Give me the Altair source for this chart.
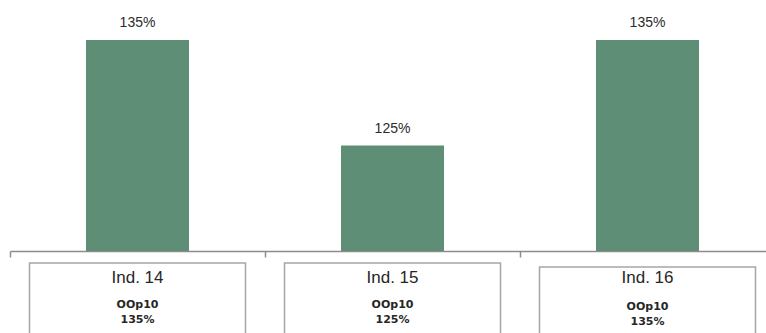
import altair as alt
import pandas as pd

# Indicator categories, their achieved percentage and the series name shown in each label box
categories = ["Ind. 14", "Ind. 15", "Ind. 16"]
values = [135, 125, 135]
series_name = "OOp10"

df = pd.DataFrame({"ind": categories, "value": values})

Y_MIN, Y_MAX = 115, 138.8  # value axis window; bars rise from Y_MIN

BAR_COLOR = "#5e8e76"
TEXT_COLOR = "#262626"
BOX_STROKE = "#a6a6a6"

x_enc = alt.X(
    "ind:N",
    sort=categories,
    scale=alt.Scale(range=[0, 765], paddingInner=0, paddingOuter=0),
    axis=alt.Axis(
        title=None,
        labels=False,
        domainColor="#8c8c8c",
        domainWidth=1.5,
        tickColor="#8c8c8c",
        tickWidth=1.5,
        tickSize=6,
        tickBand="extent",
    ),
)
y_enc = alt.Y(
    "value:Q",
    scale=alt.Scale(domain=[Y_MIN, Y_MAX], zero=False, nice=False),
    axis=None,
)

base = alt.Chart(df).transform_calculate(
    pct="datum.value + '%'",
    series=f"'{series_name}'",
)

bars = base.mark_bar(color=BAR_COLOR, width=alt.RelativeBandSize(0.404)).encode(
    x=x_enc, y=y_enc, y2=alt.Y2(datum=Y_MIN)
)

value_labels = base.mark_text(
    dy=-17, baseline="middle", fontSize=14, font="Liberation Sans", color="#2b2b2b"
).encode(x=x_enc, y=y_enc, text="pct:N")


def label_box(subset, shift):
    """White box with the category name, series name and value under the axis."""
    src = base.transform_filter(alt.FieldOneOfPredicate(field="ind", oneOf=subset))
    box = src.mark_bar(
        fill="white",
        stroke=BOX_STROKE,
        strokeWidth=1.5,
        width=alt.RelativeBandSize(0.847),
    ).encode(x=x_enc, y=alt.value(263 + shift), y2=alt.value(345))
    name = src.mark_text(
        baseline="middle", fontSize=17, font="Liberation Sans", color=TEXT_COLOR
    ).encode(x=x_enc, y=alt.value(278), text="ind:N")
    series = src.mark_text(
        baseline="middle", fontSize=11, fontWeight="bold", font="DejaVu Sans", color=TEXT_COLOR
    ).encode(x=x_enc, y=alt.value(305 + shift / 2), text="series:N")
    value = src.mark_text(
        baseline="middle", fontSize=11, fontWeight="bold", font="DejaVu Sans", color=TEXT_COLOR
    ).encode(x=x_enc, y=alt.value(320 + shift / 2), text="pct:N")
    return [box, name, series, value]


boxes = label_box(categories[:2], 0) + label_box(categories[2:], 4)

chart = (
    alt.layer(bars, value_labels, *boxes)
    .properties(
        width=756,
        height=251,
        autosize=alt.AutoSizeParams(type="none"),
        padding={"left": 10, "top": 0, "right": 0, "bottom": 82},
        background="white",
    )
    .configure_view(stroke=None)
)

chart.save("out.html", embed_options={"renderer": "svg", "actions": False})
